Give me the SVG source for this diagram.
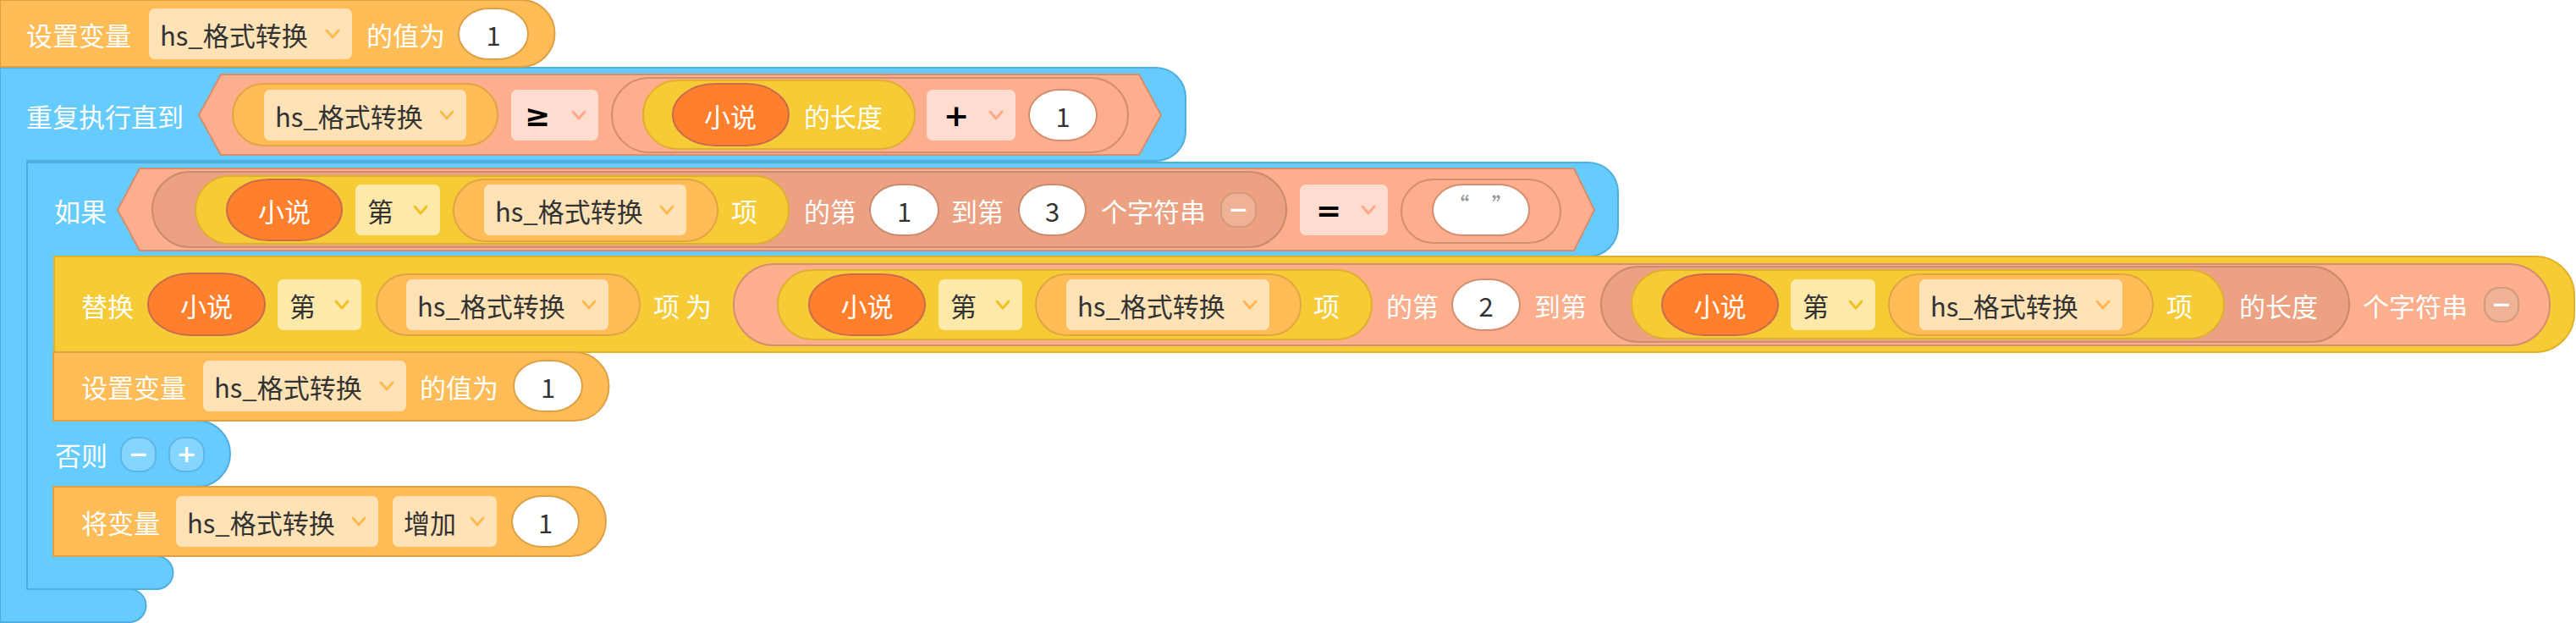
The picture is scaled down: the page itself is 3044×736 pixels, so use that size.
<svg xmlns="http://www.w3.org/2000/svg" width="3044" height="736" viewBox="0 0 3044 736">
<style>
text{font-family:"Noto Sans CJK SC","Noto Sans",sans-serif;font-size:31px;dominant-baseline:central}
.w{fill:#fff}
.d{fill:#333}
.c{text-anchor:middle}
.dn{fill:#333;text-anchor:middle}
.op{fill:#000;font-weight:bold;font-size:36px;font-family:"DejaVu Sans",sans-serif}
.q{fill:#999;font-size:24px;font-weight:bold;text-anchor:middle}
.sym{fill:#fff;font-weight:bold;font-size:28px;text-anchor:middle;font-family:"DejaVu Sans",sans-serif}
.blk-o{fill:#FFBC57;stroke:#DDA045;stroke-width:2}
.blk-b{fill:#66CCFF;stroke:#4FAEDD;stroke-width:2}
.blk-y{fill:#F7CB35;stroke:#E1B12A;stroke-width:2}
.hex,.pill-s{fill:#FDAE8C;stroke:#D58D70;stroke-width:2}
.pill-br{fill:#EBA182;stroke:#CC8A6E;stroke-width:2}
.pill-y{fill:#F7CB35;stroke:#DDB12C;stroke-width:2}
.pill-r{fill:#FF7F2D;stroke:#C96B4C;stroke-width:2}
.pill-o{fill:#FFBC57;stroke:#E0A545;stroke-width:2}
.dd-o{fill:#FFE3B6}
.dd-s{fill:#FFDCD0}
.dd-y{fill:#FDE9AA}
.num-o{fill:#fff;stroke:#DDA045;stroke-width:2}
.num-s{fill:#fff;stroke:#D58D70;stroke-width:2}
.num-br{fill:#fff;stroke:#CC8A6E;stroke-width:2}
.mc-s{fill:#EFB296;stroke:#D29A80;stroke-width:2}
.mc-b{fill:#85D5FF;stroke:#5DB6E6;stroke-width:2}
.cv-o{stroke:#FFB84F}
.cv-s{stroke:#FFA789}
.cv-y{stroke:#F4BE26}
</style>
<defs>
<path id="chev" d="M-7,-4 L0,4 L7,-4" fill="none" stroke-width="3" stroke-linecap="round" stroke-linejoin="round"/>
</defs>

<g id="repeat-until">
<path class="blk-b" d="M0,80 H1366 A35,35 0 0 1 1401,115 V155 A35,35 0 0 1 1366,190 H32 V696 H153 A19.5,19.5 0 0 1 153,735 H0 Z"/>
<text class="w" x="31" y="136">重复执行直到</text>
<polygon class="hex" points="235,136 261,88 1346,88 1372,136 1346,183 261,183"/>
<rect class="pill-o" x="275" y="99" width="313" height="73" rx="36.5"/>
<rect class="dd-o" x="312" y="106" width="239" height="60" rx="7"/>
<text class="d" x="325" y="136">hs_格式转换</text>
<use href="#chev" class="cv-o" x="528" y="136"/>
<rect class="dd-s" x="604" y="106" width="103" height="60" rx="7"/>
<text class="op" x="620" y="136">≥</text>
<use href="#chev" class="cv-s" x="684" y="136"/>
<rect class="pill-s" x="723" y="92" width="610" height="88" rx="44"/>
<rect class="pill-y" x="760" y="95" width="321" height="81" rx="40.5"/>
<rect class="pill-r" x="795" y="99" width="137" height="73" rx="50" ry="36.5"/>
<text class="w c" x="863" y="136">小说</text>
<text class="w" x="950" y="136">的长度</text>
<rect class="dd-s" x="1095" y="106" width="105" height="60" rx="7"/>
<text class="op" x="1115" y="136">+</text>
<use href="#chev" class="cv-s" x="1177" y="136"/>
<rect class="num-s" x="1216" y="106" width="80" height="60" rx="36" ry="30"/>
<text class="dn" x="1256" y="136">1</text>
</g>

<g id="set-var-1">
<path class="blk-o" d="M0,0 H616 A39.5,39.5 0 0 1 616,79 H0 Z"/>
<text class="w" x="31" y="40">设置变量</text>
<rect class="dd-o" x="176" y="10" width="240" height="60" rx="7"/>
<text class="d" x="189" y="40">hs_格式转换</text>
<use href="#chev" class="cv-o" x="393" y="40"/>
<text class="w" x="433" y="40">的值为</text>
<rect class="num-o" x="542" y="10" width="82" height="60" rx="36" ry="30"/>
<text class="dn" x="583" y="40">1</text>
</g>

<g id="if-else">
<path class="blk-b" d="M32,192 H1877 A35,35 0 0 1 1912,227 V268 A35,35 0 0 1 1877,303 H64 V497 H233 A39,39 0 0 1 233,575 H64 V657 H185 A19.5,19.5 0 0 1 185,696 H32 Z"/>
<text class="w" x="64" y="248">如果</text>
<polygon class="hex" points="139,248 165,199 1860,199 1884,248 1860,296 165,296"/>
<rect class="pill-br" x="180" y="203" width="1340" height="89" rx="44.5"/>
<rect class="pill-y" x="231" y="208" width="701" height="80" rx="40"/>
<rect class="pill-r" x="268" y="212" width="136" height="72" rx="50" ry="36"/>
<text class="w c" x="336" y="248">小说</text>
<rect class="dd-y" x="420" y="218" width="100" height="60" rx="7"/>
<text class="d" x="434" y="248">第</text>
<use href="#chev" class="cv-y" x="497" y="248"/>
<rect class="pill-o" x="536" y="212" width="312" height="73" rx="36.5"/>
<rect class="dd-o" x="572" y="218" width="239" height="60" rx="7"/>
<text class="d" x="585" y="248">hs_格式转换</text>
<use href="#chev" class="cv-o" x="788" y="248"/>
<text class="w" x="864" y="248">项</text>
<text class="w" x="950" y="248">的第</text>
<rect class="num-br" x="1028" y="218" width="81" height="60" rx="36" ry="30"/>
<text class="dn" x="1068.5" y="248">1</text>
<text class="w" x="1124" y="248">到第</text>
<rect class="num-br" x="1204" y="218" width="79" height="60" rx="36" ry="30"/>
<text class="dn" x="1243.5" y="248">3</text>
<text class="w" x="1301" y="248">个字符串</text>
<rect class="mc-s" x="1443" y="228" width="41" height="40" rx="17"/>
<text class="sym" x="1463.5" y="247">−</text>
<rect class="dd-s" x="1536" y="218" width="104" height="60" rx="7"/>
<text class="op" x="1555" y="248">=</text>
<use href="#chev" class="cv-s" x="1617" y="248"/>
<rect class="pill-s" x="1656" y="212" width="188" height="75" rx="37.5"/>
<rect class="num-s" x="1693" y="218" width="114" height="60" rx="36" ry="30"/>
<text class="q" x="1724" y="240">“</text>
<text class="q" x="1775" y="240">”</text>
<text class="w" x="65" y="536">否则</text>
<rect class="mc-b" x="143" y="517" width="41" height="40" rx="17"/>
<text class="sym" x="163.5" y="536">−</text>
<rect class="mc-b" x="200" y="517" width="41" height="40" rx="17"/>
<text class="sym" x="220.5" y="536">+</text>
</g>

<g id="replace">
<path class="blk-y" d="M64,303 H2996 A46,46 0 0 1 3042,349 V370 A46,46 0 0 1 2996,416 H64 Z"/>
<text class="w" x="96" y="360">替换</text>
<rect class="pill-r" x="175" y="323" width="138" height="73" rx="50" ry="36.5"/>
<text class="w c" x="244" y="360">小说</text>
<rect class="dd-y" x="328" y="330" width="99" height="60" rx="7"/>
<text class="d" x="342" y="360">第</text>
<use href="#chev" class="cv-y" x="404" y="360"/>
<rect class="pill-o" x="445" y="324" width="311" height="72" rx="36"/>
<rect class="dd-o" x="480" y="330" width="239" height="60" rx="7"/>
<text class="d" x="493" y="360">hs_格式转换</text>
<use href="#chev" class="cv-o" x="696" y="360"/>
<text class="w" x="772" y="360">项 为</text>
<rect class="pill-s" x="867" y="312" width="2146" height="96" rx="48"/>
<rect class="pill-y" x="919" y="319" width="702" height="82" rx="41"/>
<rect class="pill-r" x="956" y="324" width="137" height="72" rx="50" ry="36"/>
<text class="w c" x="1024.5" y="360">小说</text>
<rect class="dd-y" x="1109" y="330" width="99" height="60" rx="7"/>
<text class="d" x="1123" y="360">第</text>
<use href="#chev" class="cv-y" x="1185" y="360"/>
<rect class="pill-o" x="1224" y="324" width="313" height="72" rx="36"/>
<rect class="dd-o" x="1260" y="330" width="240" height="60" rx="7"/>
<text class="d" x="1273" y="360">hs_格式转换</text>
<use href="#chev" class="cv-o" x="1477" y="360"/>
<text class="w" x="1552" y="360">项</text>
<text class="w" x="1638" y="360">的第</text>
<rect class="num-s" x="1716" y="330" width="80" height="60" rx="36" ry="30"/>
<text class="dn" x="1756" y="360">2</text>
<text class="w" x="1813" y="360">到第</text>
<rect class="pill-br" x="1892" y="315" width="884" height="89" rx="44.5"/>
<rect class="pill-y" x="1928" y="319" width="700" height="81" rx="40.5"/>
<rect class="pill-r" x="1964" y="324" width="137" height="72" rx="50" ry="36"/>
<text class="w c" x="2032.5" y="360">小说</text>
<rect class="dd-y" x="2116" y="330" width="100" height="60" rx="7"/>
<text class="d" x="2130" y="360">第</text>
<use href="#chev" class="cv-y" x="2193" y="360"/>
<rect class="pill-o" x="2232" y="324" width="312" height="72" rx="36"/>
<rect class="dd-o" x="2268" y="330" width="240" height="60" rx="7"/>
<text class="d" x="2281" y="360">hs_格式转换</text>
<use href="#chev" class="cv-o" x="2485" y="360"/>
<text class="w" x="2560" y="360">项</text>
<text class="w" x="2646" y="360">的长度</text>
<text class="w" x="2792" y="360">个字符串</text>
<rect class="mc-s" x="2936" y="340" width="40" height="40" rx="17"/>
<text class="sym" x="2956" y="359">−</text>
</g>

<g id="set-var-2">
<path class="blk-o" d="M63,416 H679 A40.5,40.5 0 0 1 679,497 H63 Z"/>
<text class="w" x="96" y="456">设置变量</text>
<rect class="dd-o" x="240" y="426" width="240" height="60" rx="7"/>
<text class="d" x="253" y="456">hs_格式转换</text>
<use href="#chev" class="cv-o" x="457" y="456"/>
<text class="w" x="496" y="456">的值为</text>
<rect class="num-o" x="607" y="426" width="81" height="60" rx="36" ry="30"/>
<text class="dn" x="647.5" y="456">1</text>
</g>

<g id="change-var">
<path class="blk-o" d="M63,575 H675 A41,41 0 0 1 675,657 H63 Z"/>
<text class="w" x="96" y="616">将变量</text>
<rect class="dd-o" x="208" y="586" width="239" height="60" rx="7"/>
<text class="d" x="221" y="616">hs_格式转换</text>
<use href="#chev" class="cv-o" x="424" y="616"/>
<rect class="dd-o" x="464" y="586" width="123" height="60" rx="7"/>
<text class="d" x="477" y="616">增加</text>
<use href="#chev" class="cv-o" x="564" y="616"/>
<rect class="num-o" x="605" y="586" width="79" height="60" rx="36" ry="30"/>
<text class="dn" x="644.5" y="616">1</text>
</g>
</svg>
